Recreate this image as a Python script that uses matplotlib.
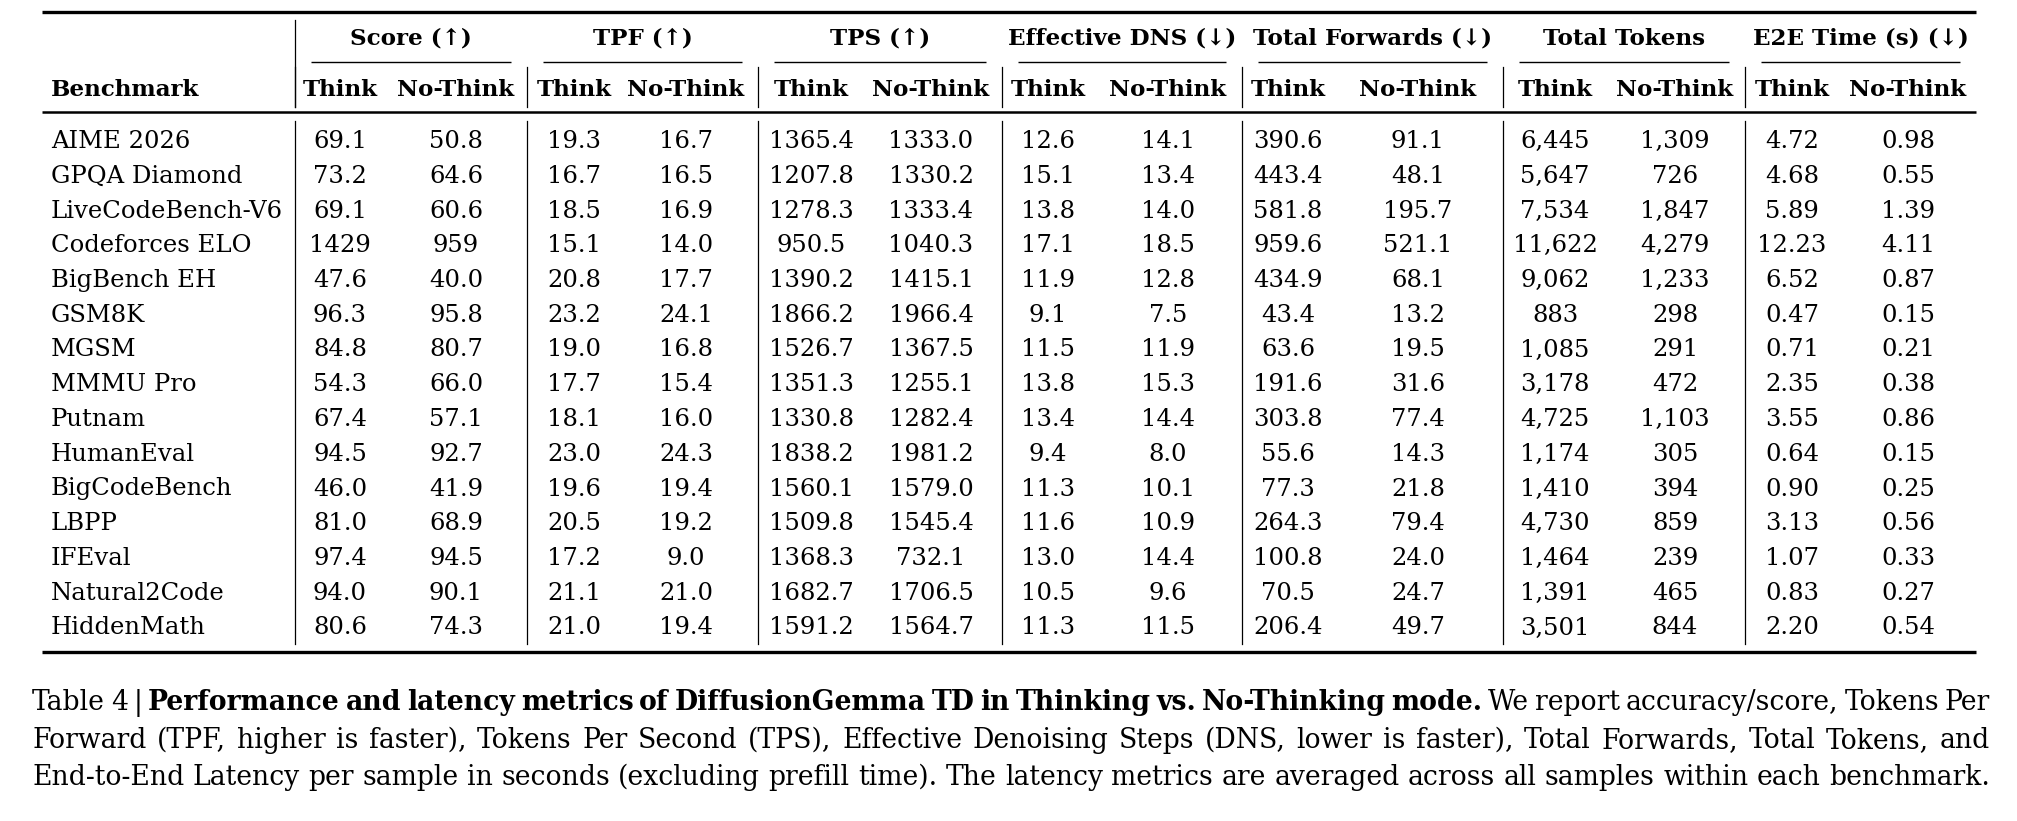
import matplotlib.pyplot as plt

# table values (kept as text to keep formatting)
benchmarks = ['AIME 2026', 'GPQA Diamond', 'LiveCodeBench-V6', 'Codeforces ELO', 'BigBench EH',
              'GSM8K', 'MGSM', 'MMMU Pro', 'Putnam', 'HumanEval', 'BigCodeBench', 'LBPP',
              'IFEval', 'Natural2Code', 'HiddenMath']

score_think = ['69.1', '73.2', '69.1', '1429', '47.6', '96.3', '84.8', '54.3', '67.4', '94.5', '46.0', '81.0', '97.4', '94.0', '80.6']
score_nothink = ['50.8', '64.6', '60.6', '959', '40.0', '95.8', '80.7', '66.0', '57.1', '92.7', '41.9', '68.9', '94.5', '90.1', '74.3']
tpf_think = ['19.3', '16.7', '18.5', '15.1', '20.8', '23.2', '19.0', '17.7', '18.1', '23.0', '19.6', '20.5', '17.2', '21.1', '21.0']
tpf_nothink = ['16.7', '16.5', '16.9', '14.0', '17.7', '24.1', '16.8', '15.4', '16.0', '24.3', '19.4', '19.2', '9.0', '21.0', '19.4']
tps_think = ['1365.4', '1207.8', '1278.3', '950.5', '1390.2', '1866.2', '1526.7', '1351.3', '1330.8', '1838.2', '1560.1', '1509.8', '1368.3', '1682.7', '1591.2']
tps_nothink = ['1333.0', '1330.2', '1333.4', '1040.3', '1415.1', '1966.4', '1367.5', '1255.1', '1282.4', '1981.2', '1579.0', '1545.4', '732.1', '1706.5', '1564.7']
dns_think = ['12.6', '15.1', '13.8', '17.1', '11.9', '9.1', '11.5', '13.8', '13.4', '9.4', '11.3', '11.6', '13.0', '10.5', '11.3']
dns_nothink = ['14.1', '13.4', '14.0', '18.5', '12.8', '7.5', '11.9', '15.3', '14.4', '8.0', '10.1', '10.9', '14.4', '9.6', '11.5']
fwd_think = ['390.6', '443.4', '581.8', '959.6', '434.9', '43.4', '63.6', '191.6', '303.8', '55.6', '77.3', '264.3', '100.8', '70.5', '206.4']
fwd_nothink = ['91.1', '48.1', '195.7', '521.1', '68.1', '13.2', '19.5', '31.6', '77.4', '14.3', '21.8', '79.4', '24.0', '24.7', '49.7']
tok_think = ['6,445', '5,647', '7,534', '11,622', '9,062', '883', '1,085', '3,178', '4,725', '1,174', '1,410', '4,730', '1,464', '1,391', '3,501']
tok_nothink = ['1,309', '726', '1,847', '4,279', '1,233', '298', '291', '472', '1,103', '305', '394', '859', '239', '465', '844']
e2e_think = ['4.72', '4.68', '5.89', '12.23', '6.52', '0.47', '0.71', '2.35', '3.55', '0.64', '0.90', '3.13', '1.07', '0.83', '2.20']
e2e_nothink = ['0.98', '0.55', '1.39', '4.11', '0.87', '0.15', '0.21', '0.38', '0.86', '0.15', '0.25', '0.56', '0.33', '0.27', '0.54']

group_titles = ['Score (↑)', 'TPF (↑)', 'TPS (↑)', 'Effective DNS (↓)',
                'Total Forwards (↓)', 'Total Tokens', 'E2E Time (s) (↓)']
sub_titles = ['Think', 'No-Think']

caption_lines = [
    [('Table 4 |', False),
     ('Performance and latency metrics of DiffusionGemma TD in Thinking vs. No-Thinking mode.', True),
     ('We report accuracy/score, Tokens Per', False)],
    [('Forward (TPF, higher is faster), Tokens Per Second (TPS), Effective Denoising Steps (DNS, '
      'lower is faster), Total Forwards, Total Tokens, and', False)],
    [('End-to-End Latency per sample in seconds (excluding prefill time). The latency metrics are '
      'averaged across all samples within each benchmark.', False)],
]

groups = [(score_think, score_nothink), (tpf_think, tpf_nothink), (tps_think, tps_nothink),
          (dns_think, dns_nothink), (fwd_think, fwd_nothink), (tok_think, tok_nothink),
          (e2e_think, e2e_nothink)]

plt.rcParams['font.family'] = ['DejaVu Serif', 'DejaVu Sans']

W, H = 2017, 821
fig = plt.figure(figsize=(W / 100, H / 100), dpi=100)
ax = fig.add_axes([0, 0, 1, 1])
ax.set_xlim(0, W)
ax.set_ylim(H, 0)
ax.axis('off')

fs = 17.5      # body text
hfs = 16.6     # bold headers
# layout in pixels
left, right = 42, 1976
seps = [295, 527, 758, 1002, 1242, 1503, 1745]
col_x = [(340, 456), (574, 686), (811, 931), (1048, 1168), (1288, 1418), (1555, 1675), (1792, 1908)]
row0, row_h = 148, 34.75
n = len(benchmarks)

# rules
ax.plot([left, right], [12, 12], color='black', lw=2.4, solid_capstyle='butt')
ax.plot([left, right], [112.5, 112.5], color='black', lw=1.8, solid_capstyle='butt')
ax.plot([left, right], [652, 652], color='black', lw=2.4, solid_capstyle='butt')
bounds = seps + [right]
for i in range(len(group_titles)):
    ax.plot([bounds[i] + 16, bounds[i + 1] - 16], [62, 62], color='black', lw=1.0,
            solid_capstyle='butt')

# vertical separators
ax.plot([seps[0], seps[0]], [20, 107], color='black', lw=0.9)
for s in seps:
    ax.plot([s, s], [67, 107], color='black', lw=0.9)
    ax.plot([s, s], [121, 644], color='black', lw=0.9)

# headers
ax.text(51, 96, 'Benchmark', fontsize=hfs, fontweight='bold', ha='left', va='baseline')
for i, title in enumerate(group_titles):
    ax.text((bounds[i] + bounds[i + 1]) / 2, 45, title, fontsize=hfs, fontweight='bold',
            ha='center', va='baseline')
    for x, sub in zip(col_x[i], sub_titles):
        ax.text(x, 96, sub, fontsize=hfs, fontweight='bold', ha='center', va='baseline')

# body
for r in range(n):
    y = row0 + r * row_h
    ax.text(51, y, benchmarks[r], fontsize=fs, ha='left', va='baseline')
    for (xt, xn), (think, nothink) in zip(col_x, groups):
        ax.text(xt, y, think[r], fontsize=fs, ha='center', va='baseline')
        ax.text(xn, y, nothink[r], fontsize=fs, ha='center', va='baseline')

# caption, justified word by word
cap_fs = 19.2
cap_left, cap_right = 32, 1990
cap_y = [710, 748, 785]
renderer = fig.canvas.get_renderer()
for line, y in zip(caption_lines, cap_y):
    words = []
    for chunk, bold in line:
        for w in chunk.split(' '):
            t = ax.text(0, y, w, fontsize=cap_fs, fontweight='bold' if bold else 'normal',
                        ha='left', va='baseline')
            words.append(t)
    widths = [t.get_window_extent(renderer).width for t in words]
    gap = (cap_right - cap_left - sum(widths)) / (len(words) - 1)
    x = cap_left
    for t, w in zip(words, widths):
        t.set_x(x)
        x += w + gap

fig.savefig('out.png', dpi=100)
